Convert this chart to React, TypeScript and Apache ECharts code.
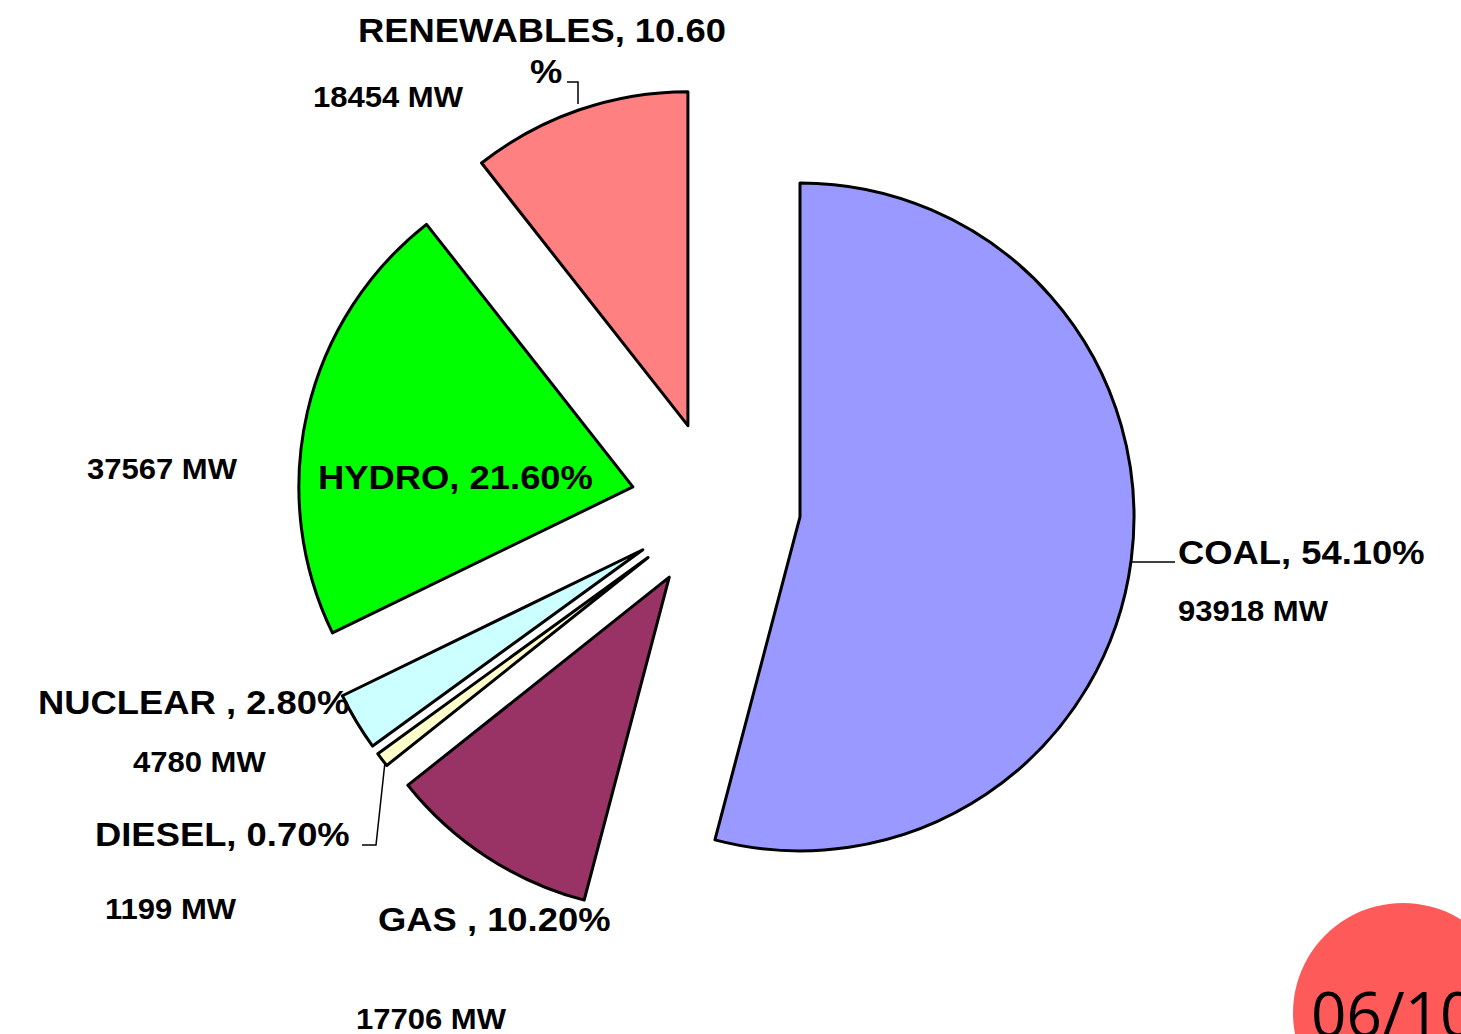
import React, { useEffect, useRef } from "react";
import * as echarts from "echarts";

// ---- data ----
const categories = ["COAL", "GAS", "DIESEL", "NUCLEAR", "HYDRO", "RENEWABLES"];
const shares = [54.1, 10.2, 0.7, 2.8, 21.6, 10.6];
const capacityMW = [93918, 17706, 1199, 4780, 37567, 18454];
const labelNames = ["COAL", "GAS ", "DIESEL", "NUCLEAR ", "HYDRO", "RENEWABLES"];
const sliceColors = ["#9999FF", "#993366", "#FFFFCC", "#CCFFFF", "#00FF00", "#FF8080"];
const pageBadge = "06/10";

// ---- layout (positions of the free-standing labels: left x, top y) ----
const nameLabelPos: [number, number][] = [
  [1178, 535],
  [378, 902],
  [95, 817],
  [38, 685],
  [318, 460],
  [358, 13],
];
const mwLabelPos: [number, number][] = [
  [1178, 596],
  [356, 1004],
  [105, 894],
  [133, 747],
  [87, 454],
  [313, 82],
];
const leaderLines: { [k: string]: [number, number][] } = {
  COAL: [[1131, 562], [1175, 562]],
  DIESEL: [[362, 845], [376, 845], [385, 762]],
  RENEWABLES: [[567, 82], [578, 82], [578, 104]],
};

const FONT = "'Liberation Sans', Arial, sans-serif";

export default function App() {
  const ref = useRef<HTMLDivElement>(null);

  useEffect(() => {
    if (!ref.current) return;
    const chart = echarts.init(ref.current, undefined, { renderer: "svg" });

    const data = categories.map((name, i) => ({
      name,
      value: shares[i],
      selected: true,
      itemStyle: { color: sliceColors[i], borderColor: "#000", borderWidth: 3 },
      select: { itemStyle: { color: sliceColors[i], borderColor: "#000", borderWidth: 3 } },
    }));

    const nameText = (i: number) => `${labelNames[i]}, ${shares[i].toFixed(2)}%`;

    const graphics: any[] = [];
    categories.forEach((name, i) => {
      const [x, y] = nameLabelPos[i];
      let txt = nameText(i);
      if (name === "RENEWABLES") {
        // wrapped in the original: the "%" sits on its own line
        graphics.push({
          type: "text",
          x: 530,
          y: 54,
          scaleX: 1.07,
          style: { text: "%", font: `bold 34px ${FONT}`, fill: "#000", verticalAlign: "top" },
        });
        txt = txt.slice(0, -1);
      }
      graphics.push({
        type: "text",
        x,
        y,
        scaleX: 1.07,
        z: 10,
        style: { text: txt, font: `bold 34px ${FONT}`, fill: "#000", verticalAlign: "top" },
      });
      const [mx, my] = mwLabelPos[i];
      graphics.push({
        type: "text",
        x: mx,
        y: my,
        scaleX: 1.07,
        style: {
          text: `${capacityMW[i]} MW`,
          font: `bold 29px ${FONT}`,
          fill: "#000",
          verticalAlign: "top",
        },
      });
      if (leaderLines[name]) {
        graphics.push({
          type: "polyline",
          shape: { points: leaderLines[name] },
          style: { stroke: "#000", lineWidth: 1.5, fill: null },
        });
      }
    });

    // slide page badge
    graphics.push({
      type: "circle",
      shape: { cx: 1403, cy: 1013, r: 110 },
      style: { fill: "#FF5A5A" },
      z: 20,
    });
    graphics.push({
      type: "text",
      x: 1311,
      y: 982,
      z: 21,
      style: {
        text: pageBadge,
        font: `62px 'Open Sans', 'Noto Sans', sans-serif`,
        fill: "#000",
        verticalAlign: "top",
      },
    });

    chart.setOption({
      animation: false,
      backgroundColor: "#ffffff",
      series: [
        {
          type: "pie",
          center: [715.7, 506],
          radius: [0, 334],
          startAngle: 90,
          clockwise: true,
          selectedMode: "multiple",
          selectedOffset: 85,
          silent: true,
          label: { show: false },
          labelLine: { show: false },
          emphasis: { disabled: true },
          data,
        },
      ],
      graphic: graphics,
    });

    return () => chart.dispose();
  }, []);

  return (
    <div
      ref={ref}
      style={{ position: "absolute", left: 0, top: 0, width: 1461, height: 1034 }}
    />
  );
}
